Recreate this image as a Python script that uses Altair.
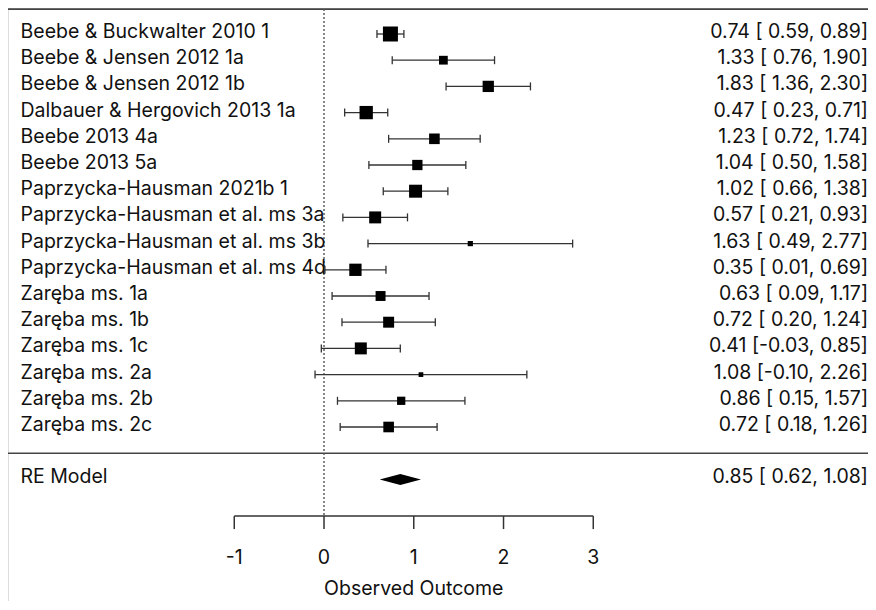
import altair as alt
import pandas as pd

# ---- data ----
studies = [
    "Beebe & Buckwalter 2010 1", "Beebe & Jensen 2012 1a", "Beebe & Jensen 2012 1b",
    "Dalbauer & Hergovich 2013 1a", "Beebe 2013 4a", "Beebe 2013 5a",
    "Paprzycka-Hausman 2021b 1", "Paprzycka-Hausman et al. ms 3a",
    "Paprzycka-Hausman et al. ms 3b", "Paprzycka-Hausman et al. ms 4d",
    "Zaręba ms. 1a", "Zaręba ms. 1b", "Zaręba ms. 1c", "Zaręba ms. 2a",
    "Zaręba ms. 2b", "Zaręba ms. 2c",
]
estimates = [0.74, 1.33, 1.83, 0.47, 1.23, 1.04, 1.02, 0.57, 1.63, 0.35, 0.63, 0.72, 0.41, 1.08, 0.86, 0.72]
ci_lower = [0.59, 0.76, 1.36, 0.23, 0.72, 0.50, 0.66, 0.21, 0.49, 0.01, 0.09, 0.20, -0.03, -0.10, 0.15, 0.18]
ci_upper = [0.89, 1.90, 2.30, 0.71, 1.74, 1.58, 1.38, 0.93, 2.77, 0.69, 1.17, 1.24, 0.85, 2.26, 1.57, 1.26]
weights = [8.9, 5.2, 6.7, 7.9, 6.3, 6.1, 7.7, 7.1, 3.1, 7.3, 5.9, 6.5, 7.1, 2.8, 4.9, 6.3]

re_label = "RE Model"
re_est, re_lo, re_hi = 0.85, 0.62, 1.08
x_ticks = [-1, 0, 1, 2, 3]
x_title = "Observed Outcome"

FONT = "Inter"
FS = 19.5
FW = 400
TXT = "#111111"

n = len(studies)
rows = list(range(n, 0, -1))


def fmt(e, lo, hi):
    return f"{e:.2f} [{lo:5.2f}, {hi:5.2f}]"


df = pd.DataFrame({
    "study": studies, "est": estimates, "lo": ci_lower, "hi": ci_upper,
    "w": weights, "row": rows,
})
df["txt"] = [fmt(e, l, h) for e, l, h in zip(estimates, ci_lower, ci_upper)]

AXIS_ROW = -2.4
TOP_ROW = 16.95
H = 593

xs = alt.Scale(domain=[-3.521, 6.061], nice=False, zero=False)
ys = alt.Scale(domain=[1 - (H - 419) / 26.2, 1 + 419 / 26.2], nice=False, zero=False)


def X(f):
    return alt.X(f, type="quantitative", scale=xs, axis=None)


def Y(f):
    return alt.Y(f, type="quantitative", scale=ys, axis=None)


def txt_mark(**kw):
    return dict(font=FONT, fontSize=FS, fontWeight=FW, color=TXT, **kw)


base = alt.Chart(df)

ci = base.mark_rule(color="#333333", strokeWidth=1.3).encode(
    x=X("lo"), x2="hi", y=Y("row"))
cap_lo = base.mark_rule(color="#333333", strokeWidth=1.3, yOffset=-4, y2Offset=4).encode(
    x=X("lo"), y=Y("row"), y2="row")
cap_hi = base.mark_rule(color="#333333", strokeWidth=1.3, yOffset=-4, y2Offset=4).encode(
    x=X("hi"), y=Y("row"), y2="row")
squares = base.mark_point(shape="square", filled=True, color="black", opacity=1, strokeWidth=0).encode(
    x=X("est"), y=Y("row"),
    size=alt.Size("w:Q", scale=alt.Scale(type="pow", exponent=2, domain=[0, max(weights)], range=[0, 225]), legend=None),
)
labels = base.mark_text(**txt_mark(align="left", baseline="alphabetic", dy=4)).encode(
    x=alt.value(12.5), y=Y("row"), text="study:N")
right_txt = base.mark_text(**txt_mark(align="right", baseline="alphabetic", dy=4)).encode(
    x=alt.value(860), y=Y("row"), text="txt:N")

# RE model
re_df = pd.DataFrame({"label": [re_label], "row": [-1], "txt": [fmt(re_est, re_lo, re_hi)]})
h = 0.21
dia_df = pd.DataFrame({"x": [re_lo, re_est, re_hi], "y": [-1, -1 + h, -1], "y2": [-1, -1 - h, -1]})
diamond = alt.Chart(dia_df).mark_area(color="black", opacity=1).encode(
    x=X("x"), y=Y("y"), y2="y2")
re_lab = alt.Chart(re_df).mark_text(**txt_mark(align="left", baseline="alphabetic", dy=4)).encode(
    x=alt.value(12.5), y=Y("row"), text="label:N")
re_txt = alt.Chart(re_df).mark_text(**txt_mark(align="right", baseline="alphabetic", dy=4)).encode(
    x=alt.value(860), y=Y("row"), text="txt:N")

# horizontal separators
hl_df = pd.DataFrame({"row": [TOP_ROW, 0]})
hlines = alt.Chart(hl_df).mark_rule(color="#444444", strokeWidth=1.6).encode(
    x=alt.value(0), x2=alt.value(860), y=Y("row"))

# reference line at 0
ref_df = pd.DataFrame({"x": [0], "y": [TOP_ROW], "y2": [AXIS_ROW]})
refline = alt.Chart(ref_df).mark_rule(color="#555555", strokeWidth=1.4, strokeDash=[2, 2]).encode(
    x=X("x"), y=Y("y"), y2="y2")

# hand-drawn axis
ax_df = pd.DataFrame({"x": [min(x_ticks)], "x2": [max(x_ticks)], "row": [AXIS_ROW]})
axline = alt.Chart(ax_df).mark_rule(color="#333333", strokeWidth=1.5).encode(
    x=X("x"), x2="x2", y=Y("row"))
tk_df = pd.DataFrame({"x": x_ticks, "row": [AXIS_ROW] * len(x_ticks), "lab": [str(t) for t in x_ticks]})
ticks = alt.Chart(tk_df).mark_rule(color="#333333", strokeWidth=1.5, y2Offset=13).encode(
    x=X("x"), y=Y("row"), y2="row")
ticklab = alt.Chart(tk_df).mark_text(**txt_mark(baseline="alphabetic", dy=48)).encode(
    x=X("x"), y=Y("row"), text="lab:N")
title_df = pd.DataFrame({"x": [1], "t": [x_title]})
xtitle = alt.Chart(title_df).mark_text(**txt_mark(baseline="alphabetic")).encode(
    x=X("x"), y=alt.value(587), text="t:N")

chart = alt.layer(
    hlines, refline, ci, cap_lo, cap_hi, squares, diamond, labels, right_txt,
    re_lab, re_txt, axline, ticks, ticklab, xtitle,
).properties(
    width=860, height=H, padding=0, autosize=alt.AutoSizeParams(type="none"),
).configure_view(stroke=None).configure(background="white")

chart.save("out.html", embed_options={"renderer": "svg", "actions": False})
